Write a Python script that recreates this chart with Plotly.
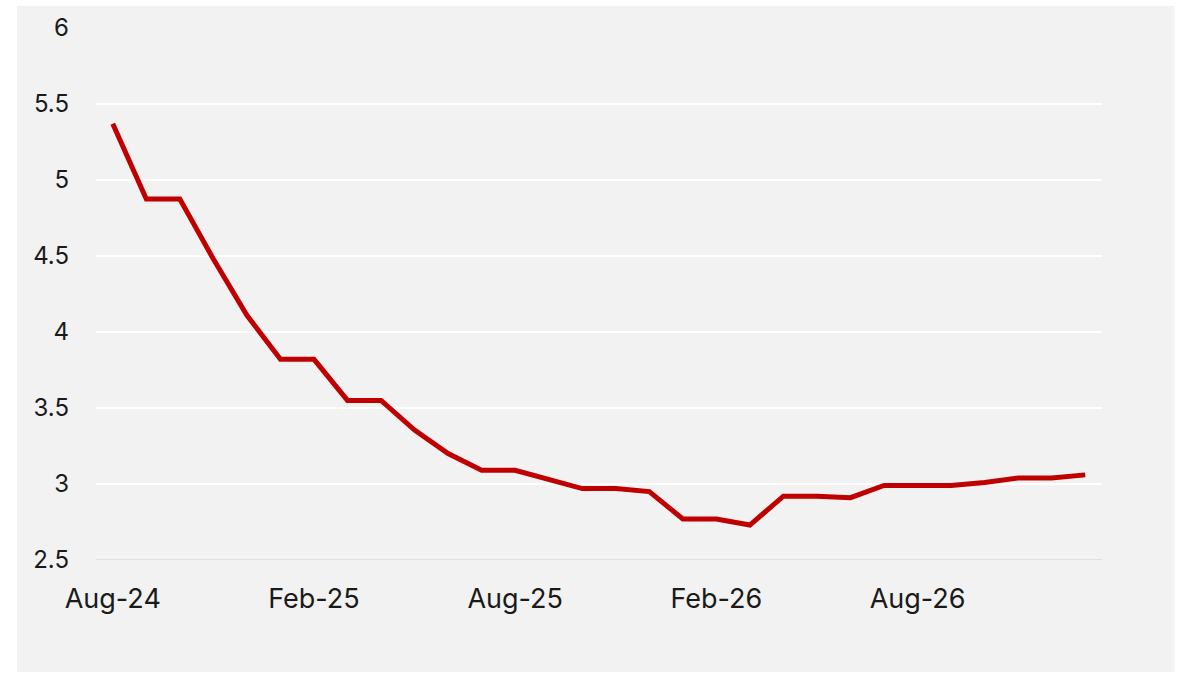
import plotly.graph_objects as go

# Monthly path, Aug-24 through Jan-27
months = [
    "Aug-24", "Sep-24", "Oct-24", "Nov-24", "Dec-24", "Jan-25",
    "Feb-25", "Mar-25", "Apr-25", "May-25", "Jun-25", "Jul-25",
    "Aug-25", "Sep-25", "Oct-25", "Nov-25", "Dec-25", "Jan-26",
    "Feb-26", "Mar-26", "Apr-26", "May-26", "Jun-26", "Jul-26",
    "Aug-26", "Sep-26", "Oct-26", "Nov-26", "Dec-26", "Jan-27",
]
rates = [
    5.37, 4.875, 4.875, 4.48, 4.11, 3.82,
    3.82, 3.55, 3.55, 3.355, 3.20, 3.09,
    3.09, 3.03, 2.97, 2.97, 2.95, 2.77,
    2.77, 2.73, 2.92, 2.92, 2.91, 2.99,
    2.99, 2.99, 3.01, 3.04, 3.04, 3.06,
]
x_ticks = ["Aug-24", "Feb-25", "Aug-25", "Feb-26", "Aug-26"]
y_ticks = [2.5, 3, 3.5, 4, 4.5, 5, 5.5, 6]
y_ticktext = ["2.5", "3", "3.5", "4", "4.5", "5", "5.5", "6"]

PANEL = "#f2f2f2"
FAMILY = "Inter, Liberation Sans, Arial, sans-serif"
TEXT = "#1a1a1a"

fig = go.Figure(
    go.Scatter(
        x=months,
        y=rates,
        mode="lines",
        line=dict(color="#c00000", width=5),
        hoverinfo="x+y",
    )
)

# grey panel behind the whole chart
fig.add_shape(
    type="rect", xref="paper", yref="paper",
    x0=-0.0785, x1=1.072, y0=-0.2105, y1=1.0414,
    fillcolor=PANEL, line=dict(width=0), layer="below",
)

fig.update_layout(
    width=1180,
    height=673,
    margin=dict(l=96, r=77.5, t=28, b=113),
    paper_bgcolor="white",
    plot_bgcolor=PANEL,
    font=dict(family=FAMILY, size=24, color=TEXT),
    showlegend=False,
)

fig.update_xaxes(
    type="category",
    categoryorder="array",
    categoryarray=months,
    range=[-0.5, len(months) - 0.5],
    tickmode="array",
    tickvals=x_ticks,
    ticktext=x_ticks,
    tickfont=dict(family=FAMILY, size=27, color=TEXT),
    showgrid=False,
    showline=False,
    zeroline=False,
    ticks="",
    ticklabelstandoff=20,
)

fig.update_yaxes(
    range=[2.5, 6],
    tickmode="array",
    tickvals=y_ticks,
    ticktext=y_ticktext,
    tickfont=dict(family=FAMILY, size=24, color=TEXT),
    showgrid=True,
    gridcolor="white",
    gridwidth=1.5,
    zeroline=False,
    showline=False,
    ticks="",
    ticklabelstandoff=26,
)

# light baseline along the bottom of the plot
fig.add_shape(
    type="line", xref="paper", yref="y",
    x0=0, x1=1, y0=2.5, y1=2.5,
    line=dict(color="#d9d9d9", width=1.5), layer="below",
)

fig.write_html("out.html")
